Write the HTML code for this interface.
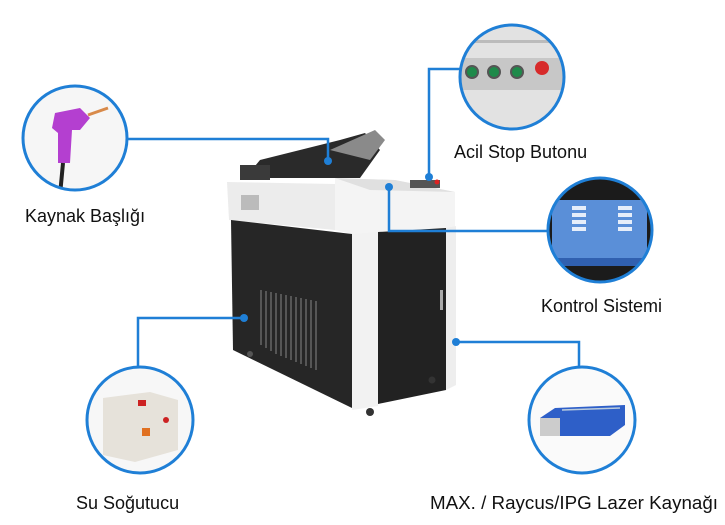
<!DOCTYPE html>
<html><head><meta charset="utf-8"><style>
html,body{margin:0;padding:0;background:#fff;}
svg{display:block}
text{font-family:"Liberation Sans","Noto Sans CJK SC",sans-serif;font-size:18px;fill:#111}
</style></head><body>
<svg width="725" height="525" viewBox="0 0 725 525" xmlns="http://www.w3.org/2000/svg">
<defs>
<clipPath id="c1"><circle cx="75" cy="138" r="52"/></clipPath>
<clipPath id="c2"><circle cx="512" cy="77" r="52"/></clipPath>
<clipPath id="c3"><circle cx="600" cy="230" r="52"/></clipPath>
<clipPath id="c4"><circle cx="140" cy="420" r="53"/></clipPath>
<clipPath id="c5"><circle cx="582" cy="420" r="53"/></clipPath>
</defs>

<!-- machine -->
<g>
<!-- top gear -->
<path d="M245 178 L260 160 L300 150 L340 140 L365 133 L380 150 L360 178 Z" fill="#2a2a2a"/>
<path d="M330 150 L375 130 L385 140 L370 160 Z" fill="#8a8a8a"/>
<rect x="240" y="165" width="30" height="15" fill="#3a3a3a"/>
<!-- left top white -->
<polygon points="227,182 335,184 335,230 229,220" fill="#ececec"/>
<rect x="241" y="195" width="18" height="15" fill="#bbb"/>
<!-- right top white -->
<polygon points="335,178 395,180 455,192 455,228 360,236 335,230" fill="#f4f4f4"/>
<polygon points="335,178 395,180 455,192 370,190" fill="#e0e0e0"/>
<rect x="410" y="180" width="30" height="8" fill="#555"/>
<circle cx="437" cy="182" r="2.5" fill="#d22"/>
<!-- left black panel -->
<polygon points="231,220 352,234 352,408 233,350" fill="#262626"/>
<g stroke="#777" stroke-width="1.2">
<line x1="261" y1="290" x2="261" y2="345"/><line x1="266" y1="291" x2="266" y2="348"/>
<line x1="271" y1="292" x2="271" y2="351"/><line x1="276" y1="293" x2="276" y2="354"/>
<line x1="281" y1="294" x2="281" y2="356"/><line x1="286" y1="295" x2="286" y2="358"/>
<line x1="291" y1="296" x2="291" y2="360"/><line x1="296" y1="297" x2="296" y2="362"/>
<line x1="301" y1="298" x2="301" y2="364"/><line x1="306" y1="299" x2="306" y2="366"/>
<line x1="311" y1="300" x2="311" y2="368"/><line x1="316" y1="301" x2="316" y2="370"/>
</g>
<!-- white pillar -->
<polygon points="352,234 378,232 378,406 352,410" fill="#f2f2f2"/>
<!-- right door -->
<polygon points="378,232 446,228 446,390 378,404" fill="#222"/>
<rect x="440" y="290" width="3" height="20" fill="#aaa"/>
<polygon points="446,228 456,226 456,385 446,390" fill="#eee"/>
<circle cx="370" cy="412" r="4" fill="#333"/><circle cx="432" cy="380" r="3.5" fill="#333"/>
<circle cx="250" cy="354" r="3" fill="#555"/>
</g>

<!-- connectors -->
<g stroke="#1f7fd6" stroke-width="2.5" fill="none">
<polyline points="128,139 328,139 328,161"/>
<polyline points="460,69 429,69 429,177"/>
<polyline points="548,231 389,231 389,187"/>
<polyline points="138,367 138,318 244,318"/>
<polyline points="579,367 579,342 456,342"/>
</g>
<g fill="#1f7fd6">
<circle cx="328" cy="161" r="4"/><circle cx="429" cy="177" r="4"/>
<circle cx="389" cy="187" r="4"/><circle cx="244" cy="318" r="4"/>
<circle cx="456" cy="342" r="4"/>
</g>

<!-- circle 1 welding head -->
<g clip-path="url(#c1)">
<rect x="20" y="85" width="110" height="110" fill="#f6f6f6"/>
<path d="M55 113 L80 108 L90 118 L80 130 L72 130 L70 163 L58 163 L58 133 L52 128 Z" fill="#b43fd0"/>
<line x1="88" y1="115" x2="108" y2="108" stroke="#d88a4a" stroke-width="3"/>
<line x1="63" y1="163" x2="60" y2="195" stroke="#222" stroke-width="4"/>
</g>
<circle cx="75" cy="138" r="52" fill="none" stroke="#1f7fd6" stroke-width="3"/>

<!-- circle 2 buttons -->
<g clip-path="url(#c2)">
<rect x="458" y="20" width="110" height="115" fill="#e2e2e2"/>
<rect x="458" y="58" width="110" height="32" fill="#c7c7c7"/>
<rect x="458" y="40" width="110" height="3" fill="#bbb"/>
<circle cx="472" cy="72" r="6" fill="#1e8a4a" stroke="#555" stroke-width="2"/>
<circle cx="494" cy="72" r="6" fill="#1e8a4a" stroke="#555" stroke-width="2"/>
<circle cx="517" cy="72" r="6" fill="#1e8a4a" stroke="#555" stroke-width="2"/>
<circle cx="542" cy="68" r="7" fill="#d72a2a"/>
</g>
<circle cx="512" cy="77" r="52" fill="none" stroke="#1f7fd6" stroke-width="3"/>

<!-- circle 3 control screen -->
<g clip-path="url(#c3)">
<rect x="545" y="175" width="110" height="110" fill="#1b1b1b"/>
<rect x="552" y="200" width="95" height="60" fill="#5a8fd8"/>
<rect x="552" y="258" width="95" height="8" fill="#3060b0"/>
<g fill="#e6eefa">
<rect x="572" y="206" width="14" height="4"/><rect x="572" y="213" width="14" height="4"/><rect x="572" y="220" width="14" height="4"/><rect x="572" y="227" width="14" height="4"/>
<rect x="618" y="206" width="14" height="4"/><rect x="618" y="213" width="14" height="4"/><rect x="618" y="220" width="14" height="4"/><rect x="618" y="227" width="14" height="4"/>
</g>
</g>
<circle cx="600" cy="230" r="52" fill="none" stroke="#1f7fd6" stroke-width="3"/>

<!-- circle 4 chiller -->
<g clip-path="url(#c4)">
<rect x="85" y="365" width="112" height="112" fill="#f7f7f7"/>
<polygon points="103,398 150,392 178,400 178,450 135,462 103,455" fill="#e6e2da"/>
<rect x="138" y="400" width="8" height="6" fill="#c22"/>
<rect x="142" y="428" width="8" height="8" fill="#e07020"/>
<circle cx="166" cy="420" r="3" fill="#c22"/>
</g>
<circle cx="140" cy="420" r="53" fill="none" stroke="#1f7fd6" stroke-width="3"/>

<!-- circle 5 laser source -->
<g clip-path="url(#c5)">
<rect x="528" y="365" width="110" height="112" fill="#fafafa"/>
<polygon points="540,418 555,408 625,405 625,425 610,436 540,436" fill="#2e5fc8"/>
<rect x="540" y="418" width="20" height="18" fill="#ccc"/>
<line x1="562" y1="410" x2="620" y2="408" stroke="#bcd" stroke-width="1.5"/>
</g>
<circle cx="582" cy="420" r="53" fill="none" stroke="#1f7fd6" stroke-width="3"/>

<!-- labels -->
<text x="25" y="222">Kaynak Başlığı</text>
<text x="454" y="158">Acil Stop Butonu</text>
<text x="541" y="312">Kontrol Sistemi</text>
<text x="76" y="509">Su Soğutucu</text>
<text x="430" y="509" textLength="288" lengthAdjust="spacingAndGlyphs">MAX. / Raycus/IPG Lazer Kaynağı</text>
</svg>
</body></html>
